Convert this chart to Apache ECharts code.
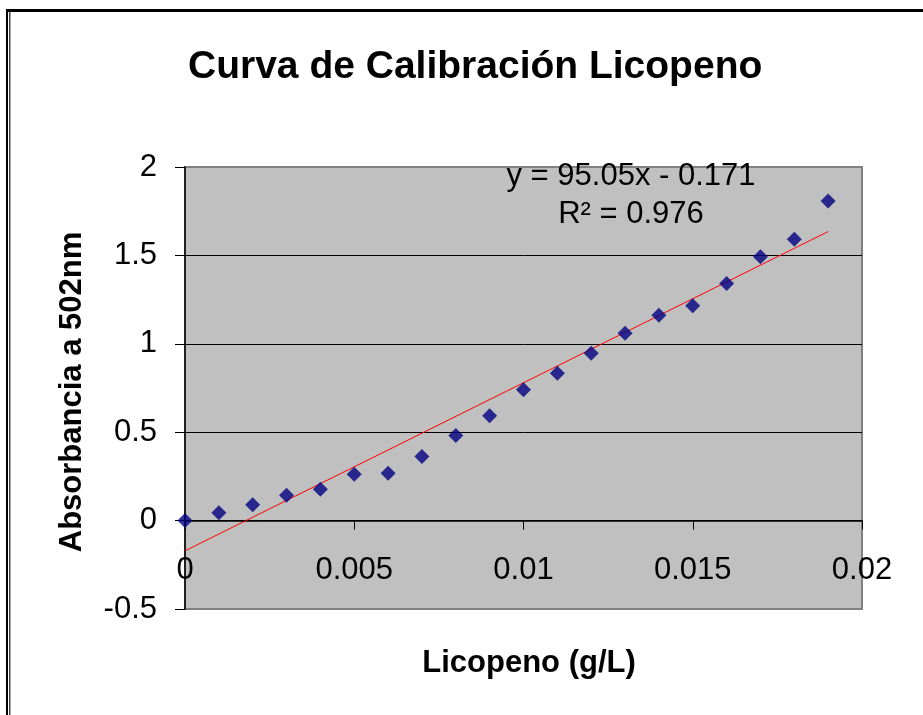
<!DOCTYPE html>
<html>
<head>
<meta charset="utf-8">
<script src="https://cdn.jsdelivr.net/npm/echarts@6/dist/echarts.min.js"></script>
<style>
  html, body { margin: 0; padding: 0; background: #fff; }
  #chart { width: 923px; height: 715px; }
</style>
</head>
<body>
<div id="chart"></div>
<script>
// Data
const concentration = [0, 0.001, 0.002, 0.003, 0.004, 0.005, 0.006, 0.007, 0.008, 0.009,
                       0.010, 0.011, 0.012, 0.013, 0.014, 0.015, 0.016, 0.017, 0.018, 0.019];
const absorbance = [0, 0.044, 0.089, 0.143, 0.177, 0.262, 0.268, 0.362, 0.482, 0.593,
                    0.740, 0.834, 0.946, 1.059, 1.162, 1.215, 1.341, 1.492, 1.592, 1.808];
const trendSlope = 95.05;
const trendIntercept = -0.171;
const trendRange = [0, 0.019];
const equationText = 'y = 95.05x - 0.171';
const r2Text = 'R² = 0.976';
const titleText = 'Curva de Calibración Licopeno';
const xTitle = 'Licopeno (g/L)';
const yTitle = 'Absorbancia a 502nm';

const FONT = 'Liberation Sans, Arial, sans-serif';

const points = concentration.map((x, i) => [x, absorbance[i]]);
const trendPoints = trendRange.map(x => [x, trendSlope * x + trendIntercept]);

const gridTop = 167, gridBottom = 106, chartH = 715;
const plotH = chartH - gridTop - gridBottom;
// x axis sits at y = 0 : distance from bottom edge of the plot = 0.5/2.5 of height
const xAxisOffset = -plotH * (0 - (-0.5)) / (2 - (-0.5));

const chart = echarts.init(document.getElementById('chart'), null, { renderer: 'canvas' });
chart.setOption({
  backgroundColor: '#ffffff',
  animation: false,
  title: {
    text: titleText,
    left: 188,
    top: 48,
    padding: 0,
    textStyle: { fontFamily: FONT, fontSize: 39, fontWeight: 'bold', color: '#000' }
  },
  grid: {
    left: 185, top: gridTop, right: 61, bottom: gridBottom,
    show: true, backgroundColor: '#C0C0C0', borderColor: '#808080', borderWidth: 2
  },
  xAxis: {
    type: 'value', min: 0, max: 0.02, interval: 0.005,
    position: 'bottom',
    offset: xAxisOffset,
    axisLine: { show: true, onZero: false, lineStyle: { color: '#000', width: 1.5 } },
    axisTick: { show: true, length: 9, lineStyle: { color: '#000', width: 1 } },
    axisLabel: { margin: 34, fontSize: 31, color: '#000', fontFamily: FONT },
    splitLine: { show: false }
  },
  yAxis: {
    type: 'value', min: -0.5, max: 2, interval: 0.5,
    axisLine: { show: true, onZero: false, lineStyle: { color: '#000', width: 1.5 } },
    axisTick: { show: true, length: 10, lineStyle: { color: '#000', width: 1 } },
    axisLabel: { margin: 28, fontSize: 31, color: '#000', fontFamily: FONT },
    splitLine: { show: true, showMinLine: false, showMaxLine: false, lineStyle: { color: '#000', width: 1 } }
  },
  series: [
    {
      name: 'Absorbancia',
      type: 'scatter',
      data: points,
      symbol: 'diamond',
      symbolSize: 15,
      itemStyle: { color: '#000080' },
      z: 3
    },
    {
      name: 'Lineal',
      type: 'line',
      data: trendPoints,
      symbol: 'none',
      lineStyle: { color: '#FF0000', width: 1 },
      z: 2
    }
  ],
  graphic: [
    { type: 'rect', shape: { x: 6, y: 9, width: 917, height: 3 }, style: { fill: '#000' }, z: 100 },
    { type: 'rect', shape: { x: 6, y: 9, width: 2, height: 706 }, style: { fill: '#000' }, z: 100 },
    { type: 'rect', shape: { x: 9, y: 12, width: 1.5, height: 703 }, style: { fill: '#444' }, z: 100 },
    {
      type: 'text', x: 631, y: 176, z: 100,
      style: { text: equationText, textAlign: 'center', textVerticalAlign: 'middle',
               font: '31px ' + FONT, fill: '#000' }
    },
    {
      type: 'text', x: 631, y: 214, z: 100,
      style: { text: r2Text, textAlign: 'center', textVerticalAlign: 'middle',
               font: '31px ' + FONT, fill: '#000' }
    },
    {
      type: 'text', x: 529, y: 663, z: 100,
      style: { text: xTitle, textAlign: 'center', textVerticalAlign: 'middle',
               font: 'bold 31px ' + FONT, fill: '#000' }
    },
    {
      type: 'text', x: 72, y: 392, rotation: Math.PI / 2, z: 100,
      style: { text: yTitle, textAlign: 'center', textVerticalAlign: 'middle',
               font: 'bold 31px ' + FONT, fill: '#000' }
    }
  ]
});
</script>
</body>
</html>
